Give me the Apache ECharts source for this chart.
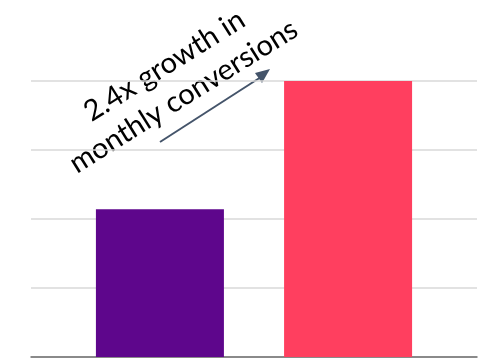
<!DOCTYPE html>
<html>
<head>
<meta charset="utf-8">
<script src="https://cdn.jsdelivr.net/npm/echarts@6/dist/echarts.min.js"></script>
<style>
	html, body { margin: 0; padding: 0; background: #fff; }
	#chart { width: 479px; height: 358px; }
</style>
</head>
<body>
<div id="chart"></div>
<script>
// data
var categories = ['Monthly conversions'];
var seriesNames = ['Before', 'After'];
var seriesValues = [2.14, 4];
var barColors = ['#5e068c', '#ff3f5f'];
var annotation = '2.4x growth in\nmonthly conversions';

var chart = echarts.init(document.getElementById('chart'));

var series = seriesNames.map(function (name, i) {
	return {
		name: name,
		type: 'bar',
		barWidth: 128,
		barGap: '47%',
		itemStyle: { color: barColors[i] },
		data: [seriesValues[i]]
	};
});

var option = {
	animation: false,
	grid: { left: 31, right: 2, top: 81, bottom: 1 },
	xAxis: {
		type: 'category',
		data: categories,
		axisLine: { lineStyle: { color: '#6e6e6e', width: 1.5 } },
		axisTick: { show: false },
		axisLabel: { show: false }
	},
	yAxis: {
		type: 'value',
		min: 0,
		max: 4,
		interval: 1,
		axisLine: { show: false },
		axisTick: { show: false },
		axisLabel: { show: false },
		splitLine: { lineStyle: { color: '#d9d9d9', width: 1.5 } }
	},
	series: series,
	graphic: [
		{
			type: 'text',
			x: 174,
			y: 81,
			rotation: 32 * Math.PI / 180,
			style: {
				text: annotation,
				fontFamily: 'Lato',
				fontSize: 29,
				lineHeight: 36,
				fill: '#000',
				align: 'center',
				verticalAlign: 'middle'
			}
		},
		{
			type: 'line',
			shape: { x1: 160, y1: 142, x2: 261, y2: 77 },
			style: { stroke: '#44546a', lineWidth: 2 }
		},
		{
			type: 'polygon',
			shape: { points: [[270, 69], [255, 73], [262, 83]] },
			style: { fill: '#44546a' }
		}
	]
};

chart.setOption(option);

window.onresize = function () {
	chart.resize();
};
</script>
</body>
</html>
